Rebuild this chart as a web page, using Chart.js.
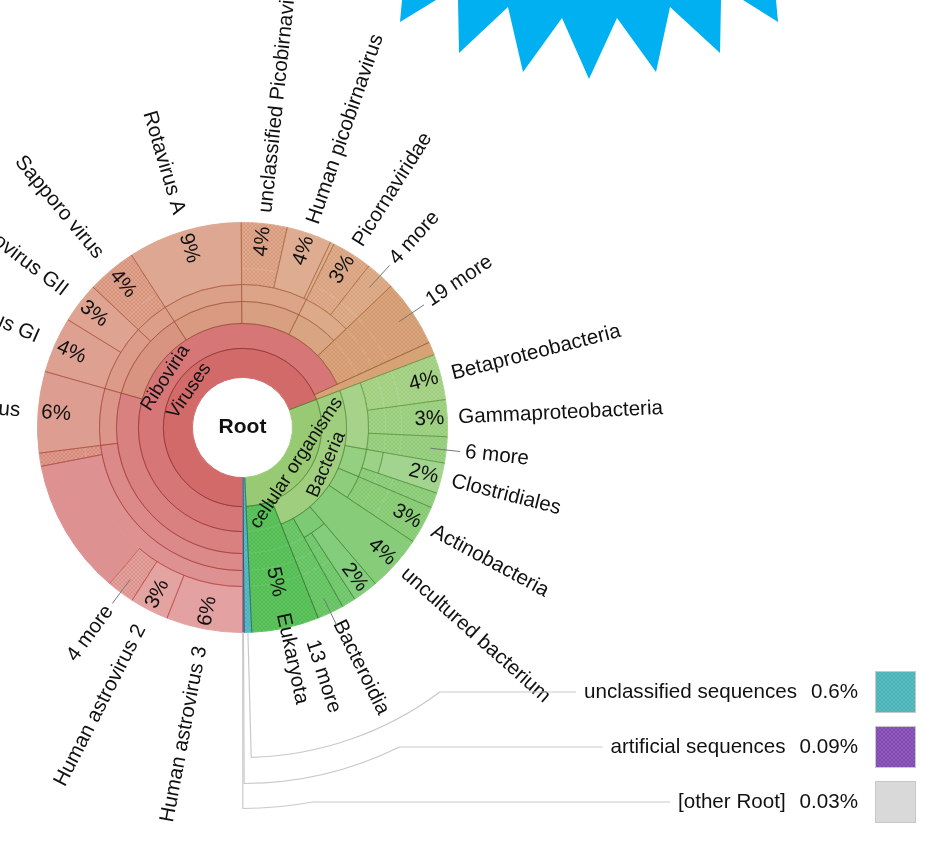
<!DOCTYPE html>
<html><head><meta charset="utf-8">
<script src="https://cdn.jsdelivr.net/npm/chart.js@4.4.1/dist/chart.umd.min.js"></script>
<style>html,body{margin:0;padding:0;background:#fff;}canvas{display:block;}</style>
</head><body>
<canvas id="c" width="946" height="848"></canvas>
<script>
// ---------------- DATA (Krona hierarchy, values = % of reads assigned directly to node) ----------------
const nodeIds = ['root','vir','ribo','stelpa','astro','mam1','hast3','hast2','more4a','avast','stella','mamas',
  'calici','noro','nogi','nogii','sapo','sapporo','reo','rotav','rotaA','picobi','picobv','upbv','hpbv','pbvx',
  'pisoni','picornales','picornav','more4b','more19','vother',
  'cell','bact','proteo','beta','gamma','more6','firmi','clostridia','clost','bacilli','actinop','actino',
  'uncult','bacteroid','bacteroidia','flavo','more13','euk','uncl','artif','other'];
const nodeLabels = ['Root','Viruses','Riboviria','Stelpaviricetes','Astroviridae','Mamastrovirus 1','Human astrovirus 3','Human astrovirus 2','4 more','Avastrovirus','Stellavirales','Mamastrovirus',
  'Caliciviridae','Norovirus','Norovirus GI','Norovirus GII','Sapovirus','Sapporo virus','Reoviridae','Rotavirus','Rotavirus A','Picobirnaviridae','Picobirnavirus','unclassified Picobirnavirus','Human picobirnavirus','Picobirnavirus sp.',
  'Pisoniviricetes','Picornavirales','Picornaviridae','4 more','19 more','unclassified viruses',
  'cellular organisms','Bacteria','Proteobacteria','Betaproteobacteria','Gammaproteobacteria','6 more','Firmicutes','Clostridia','Clostridiales','Bacilli','Actinobacteria','Actinobacteria',
  'uncultured bacterium','Bacteroidetes','Bacteroidia','Flavobacteriia','13 more','Eukaryota','unclassified sequences','artificial sequences','[other Root]'];
const nodeParents = [null,'root','vir','ribo','stelpa','astro','mam1','mam1','mam1','astro','stelpa','stella',
  'ribo','calici','noro','noro','calici','sapo','ribo','reo','rotav','ribo','picobi','picobv','picobv','picobv',
  'ribo','pisoni','picornales','picornales','ribo','vir',
  'root','cell','bact','proteo','proteo','proteo','bact','firmi','clostridia','firmi','bact','actinop',
  'bact','bact','bacteroid','bacteroid','bact','cell','root','root','root'];
const nodeValues = [0,0,0,0,0,10.75,6.0,3.05,2.17,1.03,0,6.4,
  0,0,4.4,3.2,0,3.9,0,0,9.0,0,0,3.6,3.56,0.3,
  0,0,3.2,2.33,5.3,1.03,
  0,0,0,3.6,2.9,2.06,0,0,2.4,1.2,0,3.0,
  4.4,0,2.0,1.1,2.1,5.3,0.6,0.09,0.03];
const hatchedNodes = ['more4a','avast','sapporo','upbv','picornav','more4b','more19','beta','gamma','more6',
  'bacilli','actino','flavo','more13','euk','uncl','artif'];
const legendNodes = ['uncl','artif','other'];

// ---------------- STYLE / LAYOUT ----------------
const ringThickness = [29,25,22,17,16,46];      // depth 1..6 (px)
const lightByDepth = [0,62,65,68,70,72,76];
const PCT_R = 187, NAME_R_RIGHT = 216, NAME_R_LEFT = 223;
const LEAD_R0 = 189, LEAD_R1 = 219, MORE_R = 224;
const labelNudge = {bacteroidia: 10.5, more13: 7.5};   // degrees, label spreading
const legendArcR = [330, 356, 381], legendRowDy = [264.5, 319.5, 374.5];
const legendPctRight = 858, legendBoxX = 875, legendBoxW = 41, legendBoxH = 42;
const FONT = '"Liberation Sans", Arial, Helvetica, sans-serif';
const LABEL_PX = 20.6;
const starPolys = [
  [[402,0],[436,0],[400,22]],
  [[458,0],[459,53],[508,7],[523,72],[562,18],[589,79],[617,18],[656,72],[670,7],[720,53],[721,0]],
  [[743,0],[776,0],[778,22]]
];

// ---------------- TREE ----------------
const N = nodeIds.length;
const idIndex = {}; nodeIds.forEach((id,i)=>idIndex[id]=i);
const parentIdx = nodeParents.map(p => p===null ? -1 : idIndex[p]);
const children = nodeIds.map(()=>[]);
parentIdx.forEach((p,i)=>{ if(p>=0) children[p].push(i); });
const depth = new Array(N).fill(0);
(function setD(n,d){ depth[n]=d; children[n].forEach(c=>setD(c,d+1)); })(0,0);
const total = new Array(N).fill(0);
(function tot(n){ let s=nodeValues[n]; children[n].forEach(c=>{ s+=tot(c); }); total[n]=s; return s; })(0);
const start = new Array(N).fill(0);
(function st(n,s){ start[n]=s; let c0=s; children[n].forEach(c=>{ st(c,c0); c0+=total[c]; }); })(0,0);
const grandTotal = total[0];
const maxDepth = Math.max(...depth);
const group = new Array(N).fill(0);
for(let i=1;i<N;i++){ let a=i; while(depth[a]>1) a=parentIdx[a]; group[i]=a; }

const rings = [];
for(let d=1; d<=maxDepth; d++){
  const segs=[];
  (function visit(n){
    if(depth[n]===d){ segs.push({n, v:total[n]}); return; }
    children[n].forEach(visit);
    if(n!==0 && nodeValues[n]>0) segs.push({n, v:nodeValues[n]});
  })(0);
  rings[d]=segs;
}
const ownIdx = new Array(N).fill(-1);
for(let d=1; d<=maxDepth; d++) rings[d].forEach((s,i)=>{ if(depth[s.n]===d && ownIdx[s.n]<0) ownIdx[s.n]=i; });

// ---------------- COLOURS ----------------
const canvas = document.getElementById('c');
const mainCtx = canvas.getContext('2d');
function hsl(h,s,l,a){ return a===undefined ? `hsl(${h},${s}%,${l}%)` : `hsla(${h},${s}%,${l}%,${a})`; }
const hue = [], sat = [], lig = [];
for(let i=1;i<N;i++){
  const g = nodeIds[group[i]];
  let h=0, s=50, l=lightByDepth[depth[i]];
  if(g==='vir'){ h = start[i]*0.41; s = 54; }
  else if(g==='cell'){ h = 95 + (start[i]-start[group[i]])*1.0; s = 45; l = l - (h-95)*0.28; }
  else if(g==='uncl'){ h = 183; s = 45; l = 56; }
  else if(g==='artif'){ h = 272; s = 42; l = 55; }
  else { h = 0; s = 0; l = 85; }
  hue[i]=h; sat[i]=s; lig[i]=l;
}
function makeHatch(i){
  const t=document.createElement('canvas'); t.width=t.height=4;
  const g=t.getContext('2d'); g.fillStyle=hsl(hue[i],sat[i],lig[i]); g.fillRect(0,0,4,4);
  g.fillStyle=hsl(hue[i],sat[i],lig[i]-6);
  for(let k=0;k<4;k++){ g.fillRect(k,k,1,1); g.fillRect(3-k,k,1,1); }
  return mainCtx.createPattern(t,'repeat');
}
const solid=[], fill=[], lineCol=[];
for(let i=1;i<N;i++){
  solid[i]=hsl(hue[i],sat[i],lig[i]);
  fill[i]= hatchedNodes.includes(nodeIds[i]) ? makeHatch(i) : solid[i];
  lineCol[i]= hsl(hue[i], sat[i], Math.max(lig[i]-30,20), 0.5);
}

// ---------------- DATASETS (outer ring first) ----------------
const datasets=[];
for(let d=maxDepth; d>=1; d--){
  datasets.push({
    data: rings[d].map(s=>s.v),
    backgroundColor: rings[d].map(s=>fill[s.n]),
    borderColor: rings[d].map(s=>solid[s.n]),
    borderWidth: 1,
    weight: ringThickness[d-1]
  });
}

const TAU = Math.PI*2;
const norm = a => ((a % TAU) + TAU) % TAU;

// ---------------- OVERLAY PLUGIN ----------------
const krona = {
  id:'krona',
  afterDatasetsDraw(chart){
    const ctx=chart.ctx;
    const elOf = n => chart.getDatasetMeta(maxDepth-depth[n]).data[ownIdx[n]];
    const o = chart.getDatasetMeta(0).data[0];
    const cx=o.x, cy=o.y, R=o.outerRadius;
    const P=(r,a)=>[cx+r*Math.cos(a), cy+r*Math.sin(a)];
    ctx.save(); ctx.lineWidth=1;
    for(let n=1;n<N;n++){
      const el=elOf(n); const a0=el.startAngle, a1=el.endAngle, r0=el.innerRadius, r1=el.outerRadius;
      const leaf = children[n].length===0;
      ctx.strokeStyle=lineCol[n];
      ctx.beginPath();
      const rs = leaf ? R : r1;
      ctx.moveTo(...P(rs,a0)); ctx.lineTo(...P(r0,a0));
      if(depth[n]>1) ctx.arc(cx,cy,r0,a0,a1); else ctx.moveTo(...P(r0,a1));
      const re = (leaf || nodeValues[n]>0) ? R : r1;
      ctx.lineTo(...P(re,a1));
      if(!leaf){ const ac=a0+(a1-a0)*(total[n]-nodeValues[n])/total[n]; ctx.moveTo(...P(r1,a0)); ctx.arc(cx,cy,r1,a0,ac); }
      ctx.stroke();
    }
    ctx.restore();
  },
  afterDraw(chart){
    const ctx=chart.ctx;
    const elOf = n => chart.getDatasetMeta(maxDepth-depth[n]).data[ownIdx[n]];
    const o = chart.getDatasetMeta(0).data[0];
    const cx=o.x, cy=o.y, R=o.outerRadius;
    const P=(r,a)=>[cx+r*Math.cos(a), cy+r*Math.sin(a)];
    ctx.save();
    ctx.fillStyle='#111'; ctx.textBaseline='middle';
    function radial(a, rRight, rLeft, text, center){
      ctx.save(); ctx.translate(cx,cy);
      if(Math.cos(a)>=0){ ctx.rotate(a); ctx.textAlign=center?'center':'left'; ctx.fillText(text, rRight, 0); }
      else { ctx.rotate(a+Math.PI); ctx.textAlign=center?'center':'right'; ctx.fillText(text, -rLeft, 0); }
      ctx.restore();
    }
    function tangential(a, r, text){
      ctx.save(); ctx.translate(...P(r,a)); let rot=a+Math.PI/2; if(Math.cos(rot)<0) rot+=Math.PI;
      ctx.rotate(rot); ctx.textAlign='center'; ctx.fillText(text,0,0); ctx.restore();
    }
    // centre
    ctx.font='bold 21px '+FONT; ctx.textAlign='center'; ctx.fillText(nodeLabels[0], cx, cy);
    // inner tangential labels
    ctx.font='19px '+FONT;
    for(let n=1;n<N;n++){
      if(depth[n]<=2 && children[n].length>0 && total[n]>10){
        const el=elOf(n); tangential((el.startAngle+el.endAngle)/2, (el.innerRadius+el.outerRadius)/2, nodeLabels[n]);
      }
    }
    // leaf labels
    ctx.font=LABEL_PX+'px '+FONT;
    for(let n=1;n<N;n++){
      if(children[n].length>0 || legendNodes.includes(nodeIds[n]) || nodeValues[n]<1.5) continue;
      const el=elOf(n); const mid=(el.startAngle+el.endAngle)/2;
      const a = mid + (labelNudge[nodeIds[n]]||0)*Math.PI/180;
      const txt=nodeLabels[n];
      if(/more$/.test(txt)){
        ctx.strokeStyle='#777'; ctx.lineWidth=1; ctx.beginPath();
        ctx.moveTo(...P(LEAD_R0,mid)); ctx.lineTo(...P(LEAD_R1,mid)); ctx.stroke();
        radial(a, MORE_R, MORE_R, txt, false);
      } else {
        const pct = Math.round(nodeValues[n]/grandTotal*100)+'%';
        if(depth[n]<=2){ radial(mid, 158, 158, pct, true); radial(a, 190, 190, txt, false); }
        else { radial(mid, PCT_R, PCT_R, pct, true); radial(a, NAME_R_RIGHT, NAME_R_LEFT, txt, false); }
      }
    }
    // legend-style labels for tiny root children
    legendNodes.forEach((id,k)=>{
      const n=idIndex[id]; const el=elOf(n); const a=norm((el.startAngle+el.endAngle)/2);
      const Rk=legendArcR[k], y=cy+legendRowDy[k];
      const pct=(nodeValues[n]/grandTotal*100).toPrecision(1)+'%';
      ctx.font=LABEL_PX+'px '+FONT;
      const pw=ctx.measureText(pct).width, nw=ctx.measureText(nodeLabels[n]).width;
      const nameRight=legendPctRight-pw-14, nameLeft=nameRight-nw;
      ctx.strokeStyle='#c9c9c9'; ctx.lineWidth=1.2; ctx.beginPath();
      ctx.moveTo(...P(R,a)); ctx.lineTo(...P(Rk,a));
      const a1=Math.asin((y-cy)/Rk);
      ctx.arc(cx,cy,Rk,a,a1,true); ctx.lineTo(nameLeft-8,y); ctx.stroke();
      ctx.textAlign='right'; ctx.fillStyle='#111';
      ctx.fillText(pct, legendPctRight, y);
      ctx.fillText(nodeLabels[n], nameRight, y);
      ctx.fillStyle=fill[n]; ctx.fillRect(legendBoxX, y-legendBoxH/2, legendBoxW, legendBoxH);
      ctx.strokeStyle='#c8c8c8'; ctx.lineWidth=1; ctx.strokeRect(legendBoxX+0.5, y-legendBoxH/2+0.5, legendBoxW-1, legendBoxH-1);
    });
    // decorative star
    ctx.fillStyle='#00b0f0';
    starPolys.forEach(poly=>{ ctx.beginPath(); poly.forEach((p,i)=> i?ctx.lineTo(p[0],p[1]):ctx.moveTo(p[0],p[1])); ctx.closePath(); ctx.fill(); });
    ctx.restore();
  }
};

new Chart(canvas, {
  type:'doughnut',
  data:{ datasets },
  options:{
    responsive:false, animation:false, events:[],
    rotation:180, circumference:360, cutout:50, radius:205,
    layout:{ padding:{ left:37.5, top:222.5, right:498.5, bottom:215.5 } },
    plugins:{ legend:{display:false}, tooltip:{enabled:false} }
  },
  plugins:[krona]
});
</script>
</body></html>
